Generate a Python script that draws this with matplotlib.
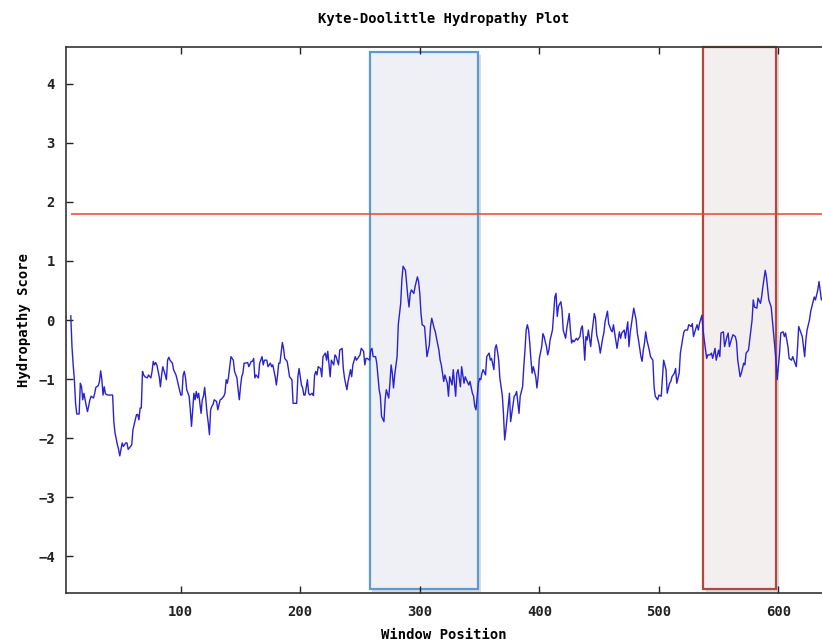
import matplotlib
matplotlib.use("Agg")
import matplotlib.pyplot as plt
import matplotlib.patheffects as pe
from matplotlib.patches import Rectangle

plt.rcParams['font.family'] = ['DejaVu Sans Mono']
plt.rcParams['font.weight'] = 'bold'
plt.rcParams['font.size'] = 10

# sliding-window Kyte-Doolittle scores (window centre, mean hydropathy)
window_pos = [
    8, 9, 10, 11, 12, 13, 15, 16, 17, 18, 19, 20, 21, 22, 24, 25, 27, 28, 29, 31,
    32, 33, 34, 35, 36, 37, 39, 41, 43, 44, 45, 47, 48, 49, 51, 52, 54, 55, 56, 58,
    59, 60, 61, 63, 64, 65, 66, 67, 68, 69, 70, 72, 73, 75, 76, 77, 78, 79, 80, 82,
    83, 84, 85, 87, 88, 89, 90, 91, 93, 94, 96, 97, 98, 100, 101, 102, 103, 104, 105, 107,
    108, 109, 110, 111,
    112, 113, 114, 115, 116, 117, 118, 119, 120, 121, 122, 123, 124, 125, 126, 127, 128,
    130, 131, 133, 134, 136, 137, 138, 139, 140, 141, 142, 144, 145, 147, 148, 149, 150,
    151, 152, 153, 154, 156, 157, 159, 160, 161, 162, 163, 165, 166, 168, 169, 170, 172,
    173, 175, 176, 177, 179, 180, 181, 182, 183, 184, 185, 186, 187, 189, 190, 191, 193,
    194, 196, 197, 198, 199, 201, 202, 203, 204, 206, 207, 208, 210, 211, 212, 213, 214,
    215, 217,
    218, 219, 221, 222, 223, 225, 226, 228, 229, 230, 232, 233, 235, 236, 237, 239, 240,
    242, 243, 244, 246, 247, 249, 250, 251, 253, 254, 255, 256, 258, 259, 260, 261, 263,
    264, 265, 266, 267, 268, 270, 271, 272, 274, 275, 276, 277, 278, 279, 281, 282, 284,
    285, 286, 288, 289, 290, 291, 292, 293, 295, 296, 298, 299, 300, 301, 302, 304, 305,
    306, 308, 309, 310, 312, 313, 314, 316, 317, 318, 320, 321,
    323, 324, 325, 327, 328, 330, 331, 332, 334, 335, 337, 338, 339, 341, 342, 344, 345,
    346, 347, 349, 350, 351, 352, 353, 355, 356, 358, 359, 360, 362, 363, 364, 365, 366,
    367, 369, 370, 371, 372, 373, 374, 375, 376, 377, 379, 380, 381, 383, 384, 386, 387,
    388, 389, 390, 391, 392, 393, 394, 395, 397, 398, 399, 400, 402, 403, 404, 405, 406,
    407, 408, 409, 411, 412, 413, 414, 415, 416, 418, 419, 420, 422, 423, 425, 426,
    427, 428, 429, 431, 432, 434, 435, 436, 437, 438, 439, 440, 441, 443, 444, 446, 447,
    448, 450, 451, 453, 454, 455, 457, 458, 460, 461, 462, 464, 465, 467, 468, 469, 471,
    472, 474, 475, 476, 478, 479, 481, 482, 483, 485, 486, 487, 488, 489, 490, 492, 493,
    495, 496, 497, 499, 500, 502, 503, 504, 506, 507, 509, 510, 511, 513, 514, 515, 517,
    518, 520, 521, 522, 524, 525, 527, 528, 529, 531,
    532, 533, 534, 536, 537, 538, 540, 541, 543, 544, 545, 547, 548, 550, 551, 552, 554,
    555, 557, 558, 559, 561, 562, 564, 565, 566, 568, 569, 571, 572, 573, 575, 576, 578,
    579, 580, 582, 583, 585, 586, 587, 589, 590, 591, 592, 594, 595, 597, 598, 599, 601,
    602, 604, 605, 606, 608, 609, 611, 612, 613, 615, 616, 617, 619, 620, 622, 623, 624,
    626, 627, 629, 630, 631, 633, 634, 636, 637,
]

kd_score = [
    0.07, -0.45, -0.76, -1.01, -1.41, -1.59, -1.59, -1.07, -1.13, -1.35, -1.24, -1.35,
    -1.46, -1.55, -1.35, -1.29, -1.32, -1.24, -1.14, -1.11, -1.04, -0.86, -1.01, -1.27,
    -1.13, -1.25, -1.27, -1.27, -1.27, -1.72, -1.91, -2.11, -2.19, -2.30, -2.08, -2.14,
    -2.08, -2.08, -2.19, -2.14, -2.11, -1.86, -1.77, -1.60, -1.60, -1.69, -1.49, -1.49,
    -0.87, -0.93, -0.96, -0.98, -0.93, -0.98, -0.87, -0.70, -0.76, -0.72, -0.76, -0.96,
    -1.13, -0.93, -0.79, -0.93, -1.01, -0.68, -0.63, -0.68, -0.73, -0.84, -0.93, -1.01,
    -1.10, -1.27, -1.27, -0.93, -0.87, -0.98, -1.18, -1.29, -1.52, -1.80, -1.52, -1.24,
    -1.35, -1.21, -1.32, -1.24, -1.41, -1.58, -1.35, -1.29, -1.14, -1.35, -1.58, -1.74,
    -1.94, -1.52, -1.46, -1.43, -1.35, -1.38, -1.52, -1.35, -1.34, -1.29, -1.24, -1.01,
    -1.07, -0.96, -0.79, -0.62, -0.68, -0.87, -0.98, -1.18, -1.35, -1.13, -0.96, -0.90,
    -0.73, -0.73, -0.72, -0.79, -0.70, -0.70, -0.65, -0.98, -0.93, -0.98, -0.73, -0.62,
    -0.76, -0.68, -0.68, -0.79, -0.73, -0.79, -0.76, -0.96, -1.10, -0.93, -0.73, -0.73,
    -0.56, -0.38, -0.48, -0.65, -0.70, -0.82, -0.96, -1.01, -1.41, -1.41, -1.41, -0.96,
    -0.82, -1.10, -1.15, -1.27, -1.27, -1.01, -1.24, -1.27, -1.24, -1.28, -0.93, -0.87,
    -0.93, -0.79, -0.82,
    -0.96, -0.62, -0.56, -0.68, -0.53, -0.96, -0.68, -0.76, -0.59, -0.62, -0.76, -0.51,
    -0.48, -0.82, -0.98, -1.18, -1.04, -0.84, -0.96, -0.76, -0.62, -0.68, -0.62, -0.59,
    -0.48, -0.53, -0.76, -0.65, -0.65, -0.68, -0.51, -0.48, -0.62, -0.62, -0.73, -0.96,
    -1.18, -1.29, -1.63, -1.72, -1.35, -1.18, -1.32, -1.07, -0.76, -0.90, -1.15, -0.93,
    -0.62, -0.08, 0.28, 0.68, 0.91, 0.84, 0.62, 0.39, 0.22, 0.45, 0.51, 0.45,
    0.56, 0.73, 0.65, 0.45, 0.11, -0.08, -0.11, -0.37, -0.62, -0.42, -0.11, 0.03,
    -0.14, -0.20, -0.31, -0.51, -0.68, -0.76, -1.04, -0.93,
    -1.07, -1.29, -0.96, -1.10, -0.84, -1.29, -0.90, -0.84, -1.13, -0.79, -1.07, -0.96,
    -1.01, -1.10, -1.04, -1.24, -1.29, -1.46, -1.52, -1.07, -0.99, -1.01, -0.90, -0.84,
    -0.93, -0.62, -0.56, -0.68, -0.65, -0.84, -0.48, -0.42, -0.53, -0.68, -0.99, -1.27,
    -1.58, -2.03, -1.86, -1.66, -1.46, -1.24, -1.72, -1.58, -1.29, -1.27, -1.21, -1.58,
    -1.29, -1.13, -0.79, -0.51, -0.17, -0.08, -0.17, -0.39, -0.68, -0.90, -0.79, -0.96,
    -1.15, -0.96, -0.65, -0.45, -0.23, -0.28, -0.37, -0.45, -0.59, -0.51, -0.34, -0.17,
    0.11, 0.39, 0.45, 0.06, 0.23, 0.31, 0.17, -0.17, -0.31, -0.14, 0.11, -0.17,
    -0.39, -0.34, -0.37, -0.31, -0.34, -0.28, -0.14, -0.10, -0.34, -0.68, -0.28, -0.34,
    -0.17, -0.45, -0.22, 0.11, 0.03, -0.25, -0.42, -0.56, -0.31, -0.22, -0.03, 0.15,
    -0.06, -0.17, -0.20, -0.08, -0.34, -0.48, -0.20, -0.31, -0.22, -0.17, -0.31, -0.03,
    -0.45, -0.22, 0.06, 0.20, 0.00, -0.22, -0.34, -0.62, -0.70, -0.51, -0.39, -0.20,
    -0.34, -0.51, -0.62, -0.68, -1.13, -1.29, -1.35, -1.27, -1.29, -0.98, -0.68, -0.84,
    -1.24, -1.07, -1.04, -0.96, -0.90, -0.82, -1.07, -0.90, -0.56, -0.31, -0.20, -0.17,
    -0.17, -0.08, -0.11, -0.06, -0.28, -0.14,
    -0.08, -0.17, -0.06, 0.08, -0.17, -0.34, -0.65, -0.59, -0.59, -0.56, -0.65, -0.48,
    -0.68, -0.51, -0.62, -0.22, -0.20, -0.45, -0.28, -0.22, -0.45, -0.31, -0.25, -0.28,
    -0.37, -0.68, -0.96, -0.90, -0.73, -0.76, -0.56, -0.51, -0.34, 0.00, 0.34, 0.22,
    0.20, 0.37, 0.28, 0.39, 0.56, 0.84, 0.73, 0.53, 0.34, 0.22, 0.00, -0.45,
    -0.68, -1.01, -0.56, -0.22, -0.20, -0.28, -0.22, -0.45, -0.65, -0.68, -0.62, -0.68,
    -0.79, -0.48, -0.11, -0.22, -0.28, -0.62, -0.34, -0.17, 0.00, 0.14, 0.31, 0.39,
    0.34, 0.51, 0.65, 0.34, 0.37,
]
assert len(window_pos) == len(kd_score)

threshold = 1.8   # transmembrane cutoff

# highlighted stretches: (start, end, bottom, top)
region_a = (258, 348.5, -4.55, 4.54)
region_b = (537, 598, -4.55, 4.62)

x_ticks = [100, 200, 300, 400, 500, 600]
y_ticks = [-4, -3, -2, -1, 0, 1, 2, 3, 4]

fig = plt.figure(figsize=(8.22, 6.43), dpi=100)
ax = fig.add_axes([66 / 822, 50 / 643, 1 - 66 / 822, 546 / 643])

def shade(region, face, edge):
    x0, x1, y0, y1 = region
    rect = Rectangle((x0, y0), x1 - x0, y1 - y0, facecolor=face, edgecolor=edge,
                     linewidth=1.6, zorder=1, clip_on=False)
    rect.set_path_effects([pe.SimplePatchShadow(offset=(2, -2), shadow_rgbFace='#777777', alpha=0.25),
                           pe.Normal()])
    ax.add_patch(rect)

shade(region_a, '#eff0f5', '#5b9bd5')
shade(region_b, '#f3efef', '#b5463e')

ax.hlines(threshold, window_pos[0], window_pos[-1], colors='#f0402e', linewidth=1.1, zorder=2)
ax.plot(window_pos, kd_score, color='#2a22d2', linewidth=1.0, zorder=3)

ax.set_xlim(4, 636.5)
ax.set_ylim(-4.62, 4.62)
ax.set_xticks(x_ticks)
ax.set_yticks(y_ticks)
ax.tick_params(direction='in', length=5, width=1, top=True, right=False,
               labelsize=10, colors='#222222')
ax.tick_params(axis='x', pad=9)
ax.tick_params(axis='y', pad=8)

for s in ['left', 'bottom', 'top']:
    ax.spines[s].set_color('#333333')
    ax.spines[s].set_linewidth(1.2)
ax.spines['right'].set_visible(False)

ax.set_title('Kyte-Doolittle Hydropathy Plot', fontsize=10, fontweight='bold', pad=17)
ax.set_xlabel('Window Position', fontsize=10, fontweight='bold', labelpad=6)
ax.set_ylabel('Hydropathy Score', fontsize=10, fontweight='bold', labelpad=5)

fig.savefig('out.png', dpi=100)
